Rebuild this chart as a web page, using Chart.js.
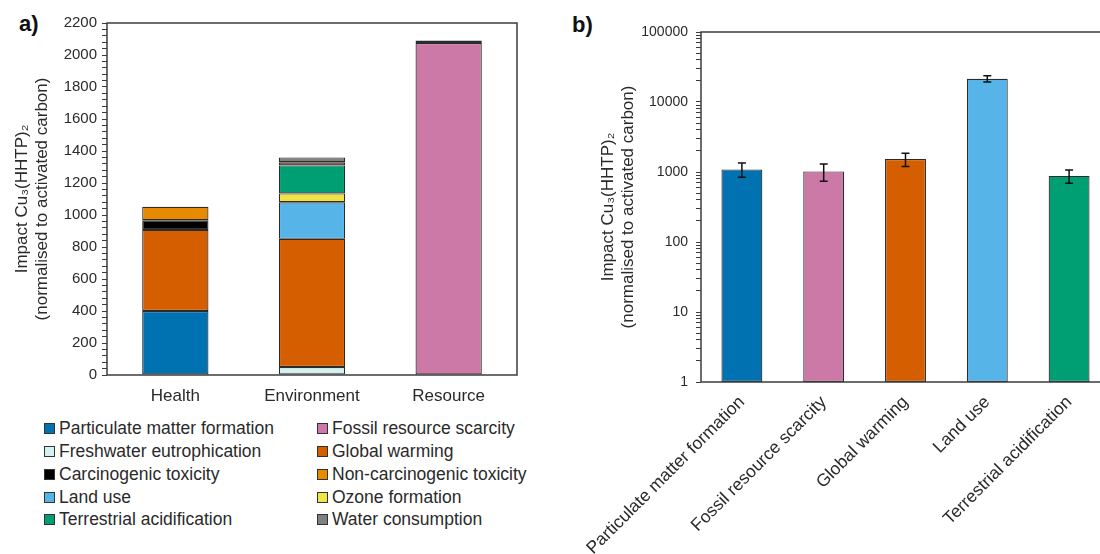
<!DOCTYPE html>
<html>
<head>
<meta charset="utf-8">
<script src="https://cdn.jsdelivr.net/npm/chart.js@4.4.0/dist/chart.umd.min.js"></script>
<style>
html, body { margin: 0; padding: 0; background: #fff; width: 1100px; height: 554px; overflow: hidden; font-family: "Liberation Sans", Arial, sans-serif; }
#boxA { position: absolute; left: 0; top: 0; width: 550px; height: 415px; }
#boxB { position: absolute; left: 550px; top: 0; width: 570px; height: 554px; }
.panel { position: absolute; font-weight: bold; font-size: 22px; color: #111; }
.lg { position: absolute; display: flex; align-items: center; height: 20px; font-size: 17.5px; color: #2a2a2a; white-space: nowrap; }
.lg i { display: inline-block; width: 9px; height: 9px; border: 1px solid #333; margin-right: 4px; }
</style>
</head>
<body>
<div class="panel" style="left:19px; top:11px;">a)</div>
<div class="panel" style="left:572px; top:12px;">b)</div>
<div id="boxA"><canvas id="chartA"></canvas></div>
<div id="boxB"><canvas id="chartB"></canvas></div>
<div id="legendA"></div>
<script>
/*-------------------------------------------------------------------------*/
// Data
/*-------------------------------------------------------------------------*/
var groups = ['Health', 'Environment', 'Resource'];

// stacked segments a), bottom to top
var particulate     = [400, 0, 0];
var freshwater      = [0, 50, 0];
var warming         = [507, 801, 0];
var carcinogenic    = [60, 0, 0];
var nonCarcinogenic = [85, 0, 0];
var landUse         = [0, 229, 0];
var ozone           = [0, 55, 0];
var fossil          = [0, 0, 2075];
var terrestrial     = [0, 175, 15];
var unlabelled      = [0, 20, 0];
var water           = [0, 30, 0];

var seriesNames  = ['Particulate matter formation', 'Freshwater eutrophication', 'Global warming', 'Carcinogenic toxicity',
                    'Non-carcinogenic toxicity', 'Land use', 'Ozone formation', 'Fossil resource scarcity',
                    'Terrestrial acidification', '', 'Water consumption'];
var seriesValues = [particulate, freshwater, warming, carcinogenic, nonCarcinogenic, landUse, ozone, fossil, terrestrial, unlabelled, water];
var seriesColors = ['#0072b2', '#d3f1ee', '#d55e00', '#000000', '#e68a00', '#56b4e9', '#f0e442', '#cc79a7', '#009e73', '#6e3514', '#808080'];

// legend a), two columns
var legendCol1 = ['Particulate matter formation', 'Freshwater eutrophication', 'Carcinogenic toxicity', 'Land use', 'Terrestrial acidification'];
var legendCol2 = ['Fossil resource scarcity', 'Global warming', 'Non-carcinogenic toxicity', 'Ozone formation', 'Water consumption'];

// b) single categories, log scale with error bars
var impactCats   = ['Particulate matter formation', 'Fossil resource scarcity', 'Global warming', 'Land use', 'Terrestrial acidification'];
var impactValues = [1090, 1020, 1530, 21500, 880];
var impactErrors = [250, 280, 330, 2200, 190];
var impactColors = ['#0072b2', '#cc79a7', '#d55e00', '#56b4e9', '#009e73'];
var logTickLabels = [1, 10, 100, 1000, 10000, 100000];

var yTitle = ['Impact Cu\u2083(HHTP)\u2082', '(normalised to activated carbon)'];

Chart.defaults.font.family = '"Liberation Sans", Arial, sans-serif';
Chart.defaults.color = '#2a2a2a';

// Plot frame
var frame = {
	id: 'frame',
	afterDraw: function(chart) {
		var a = chart.chartArea, ctx = chart.ctx;
		ctx.save();
		ctx.strokeStyle = '#3c3c3c';
		ctx.lineWidth = 1.5;
		ctx.strokeRect(a.left, a.top, a.right - a.left, a.bottom - a.top);
		ctx.restore();
	}
};

// Error bars for b)
var errorBars = {
	id: 'errorBars',
	afterDatasetsDraw: function(chart) {
		var meta = chart.getDatasetMeta(0), y = chart.scales.y, ctx = chart.ctx;
		ctx.save();
		ctx.strokeStyle = '#111';
		ctx.lineWidth = 1.5;
		meta.data.forEach(function(bar, i) {
			var top = y.getPixelForValue(impactValues[i] + impactErrors[i]);
			var bot = y.getPixelForValue(impactValues[i] - impactErrors[i]);
			ctx.beginPath();
			ctx.moveTo(bar.x, top); ctx.lineTo(bar.x, bot);
			ctx.moveTo(bar.x - 4, top); ctx.lineTo(bar.x + 4, top);
			ctx.moveTo(bar.x - 4, bot); ctx.lineTo(bar.x + 4, bot);
			ctx.stroke();
		});
		ctx.restore();
	}
};

/*-------------------------------------------------------------------------*/
// a) stacked bars
/*-------------------------------------------------------------------------*/
var datasetsA = seriesNames.map(function(name, i) {
	return {
		label: name,
		data: seriesValues[i],
		backgroundColor: seriesColors[i],
		borderColor: '#2b2b2b',
		// no outline on empty segments
		borderWidth: function(ctx) { return ctx.raw ? 1.2 : 0; },
		borderSkipped: false,
		barPercentage: 0.485,
		categoryPercentage: 1
	};
});

new Chart(document.getElementById('chartA'), {
	type: 'bar',
	data: { labels: groups, datasets: datasetsA },
	options: {
		responsive: true,
		maintainAspectRatio: false,
		animation: false,
		layout: { padding: { top: 23, right: 33, bottom: 0, left: 0 } },
		plugins: { legend: { display: false }, tooltip: { enabled: false } },
		scales: {
			x: {
				stacked: true,
				grid: { display: false, drawTicks: false },
				border: { display: false },
				ticks: { font: { size: 17 }, color: '#2a2a2a', padding: 11 },
				afterFit: function(s) { s.height = 40; }
			},
			y: {
				stacked: true,
				min: 0,
				max: 2200,
				grid: { drawOnChartArea: false, drawTicks: true, tickLength: 5, color: '#3c3c3c' },
				border: { display: false },
				ticks: {
					stepSize: 40,
					autoSkip: false,
					font: { size: 15 },
					color: '#2a2a2a',
					padding: 5,
					callback: function(v) { return v % 200 === 0 ? String(v) : ''; }
				},
				title: { display: true, text: yTitle, font: { size: 17 }, color: '#2a2a2a', padding: { top: 12, bottom: 0 } },
				afterFit: function(s) { s.width = 107; }
			}
		}
	},
	plugins: [frame]
});

// Legend a)
var legendBox = document.getElementById('legendA');
var rowY = [428, 451, 474, 497, 519];
function addLegendItem(name, left, top) {
	var idx = seriesNames.indexOf(name);
	var el = document.createElement('div');
	el.className = 'lg';
	el.style.left = left + 'px';
	el.style.top = (top - 10) + 'px';
	el.innerHTML = '<i style="background:' + seriesColors[idx] + '"></i>' + name;
	legendBox.appendChild(el);
}
legendCol1.forEach(function(n, i) { addLegendItem(n, 44, rowY[i]); });
legendCol2.forEach(function(n, i) { addLegendItem(n, 317, rowY[i]); });

/*-------------------------------------------------------------------------*/
// b) log bars
/*-------------------------------------------------------------------------*/
new Chart(document.getElementById('chartB'), {
	type: 'bar',
	data: {
		labels: impactCats,
		datasets: [{
			data: impactValues,
			backgroundColor: impactColors,
			borderColor: '#2b2b2b',
			borderWidth: 1.2,
			borderSkipped: false,
			barPercentage: 0.5,
			categoryPercentage: 1
		}]
	},
	options: {
		responsive: true,
		maintainAspectRatio: false,
		animation: false,
		layout: { padding: { top: 32, right: 10, bottom: 0, left: 0 } },
		plugins: { legend: { display: false }, tooltip: { enabled: false } },
		scales: {
			x: {
				grid: { display: false, drawTicks: false },
				border: { display: false },
				ticks: { font: { size: 17.5 }, color: '#2a2a2a', minRotation: 45, maxRotation: 45, padding: 10, autoSkip: false },
				afterFit: function(s) { s.height = 172; }
			},
			y: {
				type: 'logarithmic',
				min: 1,
				max: 100000,
				grid: { drawOnChartArea: false, drawTicks: true, tickLength: 5, color: '#3c3c3c' },
				border: { display: false },
				afterBuildTicks: function(s) {
					var t = [];
					for (var e = 0; e < 5; e++) {
						for (var k = 1; k < 10; k++) t.push({ value: k * Math.pow(10, e) });
					}
					t.push({ value: 100000 });
					s.ticks = t;
				},
				ticks: {
					autoSkip: false,
					font: { size: 14 },
					color: '#2a2a2a',
					padding: 8,
					callback: function(v) { return logTickLabels.indexOf(v) >= 0 ? String(v) : ''; }
				},
				title: { display: true, text: yTitle, font: { size: 17 }, color: '#2a2a2a', padding: { top: 48, bottom: 0 } },
				afterFit: function(s) { s.width = 151; }
			}
		}
	},
	plugins: [frame, errorBars]
});
</script>
</body>
</html>
